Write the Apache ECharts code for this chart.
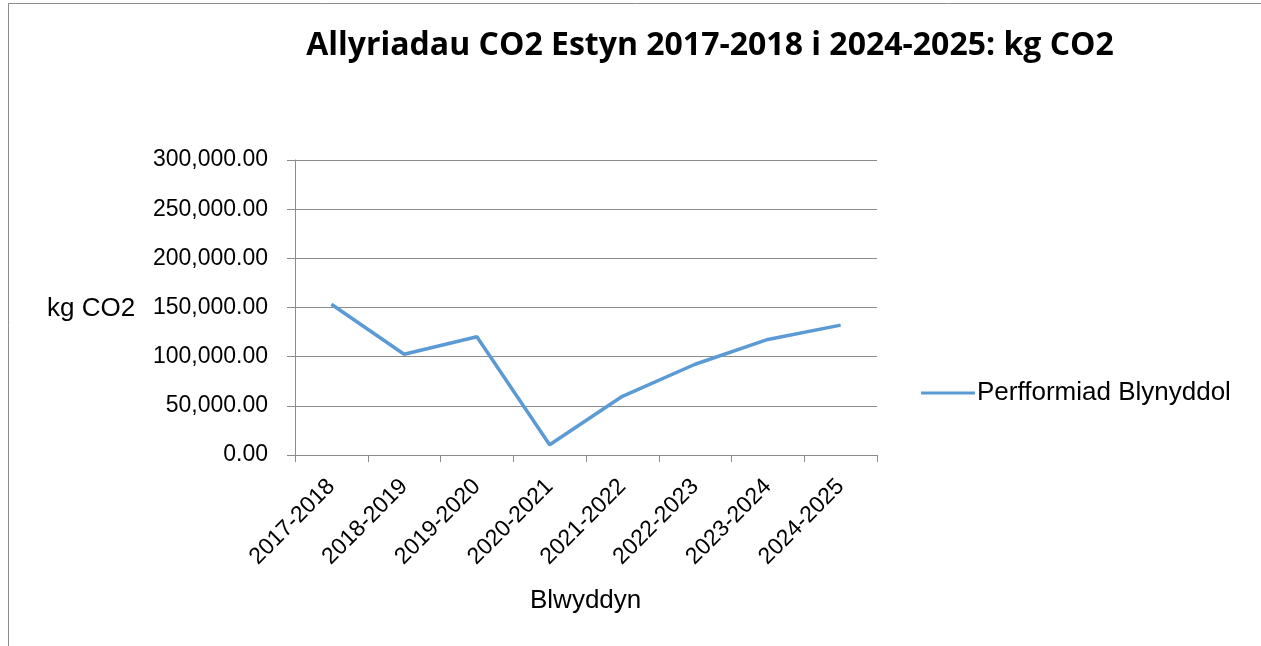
<!DOCTYPE html>
<html>
<head>
<meta charset="utf-8">
<script src="https://cdn.jsdelivr.net/npm/echarts@6/dist/echarts.min.js"></script>
<style>
html,body{margin:0;padding:0;background:#fff;}
#chart{width:1261px;height:646px;}
</style>
</head>
<body>
<div id="chart"></div>
<script>
const categories = ['2017-2018','2018-2019','2019-2020','2020-2021','2021-2022','2022-2023','2023-2024','2024-2025'];
const values = [153300, 102500, 120200, 10400, 59700, 92300, 117500, 132100];
const seriesName = 'Perfformiad Blynyddol';
const titleText = 'Allyriadau CO2 Estyn 2017-2018 i 2024-2025: kg CO2';
const yAxisName = 'kg CO2';
const xAxisName = 'Blwyddyn';

const chart = echarts.init(document.getElementById('chart'));
const fmt = v => v.toLocaleString('en-US', {minimumFractionDigits: 2, maximumFractionDigits: 2});
chart.setOption({
  animation: false,
  backgroundColor: '#fff',
  title: {
    text: titleText,
    left: 705, top: 25, textAlign: 'center',
    textStyle: {fontFamily: 'Open Sans, sans-serif', fontWeight: 'bold', fontSize: 32, color: '#000'}
  },
  grid: {left: 295, right: 384, top: 160, bottom: 191},
  legend: {
    left: 916, top: 375,
    itemWidth: 54, itemHeight: 3, itemGap: 6,
    icon: 'rect',
    textStyle: {fontFamily: 'Liberation Sans, Arial, sans-serif', fontSize: 26, color: '#000', padding: [0,0,0,-3]},
    data: [seriesName]
  },
  xAxis: {
    type: 'category', data: categories, boundaryGap: true,
    axisLine: {lineStyle: {color: '#8c8c8c', width: 1}},
    axisTick: {show: true, length: 7, lineStyle: {color: '#8c8c8c'}},
    axisLabel: {rotate: 45, fontFamily: 'Liberation Sans, Arial, sans-serif', fontSize: 23, color: '#000', margin: 28}
  },
  yAxis: {
    type: 'value', min: 0, max: 300000, interval: 50000,
    axisLine: {show: true, lineStyle: {color: '#8c8c8c', width: 1}},
    axisTick: {show: true, length: 8, lineStyle: {color: '#8c8c8c'}},
    splitLine: {lineStyle: {color: '#8c8c8c', width: 1}},
    axisLabel: {formatter: fmt, fontFamily: 'Liberation Sans, Arial, sans-serif', fontSize: 23, color: '#000', margin: 27}
  },
  graphic: [
    {type: 'rect', shape: {x: 8.5, y: 3.5, width: 1300, height: 700}, style: {fill: 'none', stroke: '#8c8c8c', lineWidth: 1}, silent: true},
    {type: 'text', left: 47, top: 296, style: {text: yAxisName, font: '26px "Liberation Sans", Arial, sans-serif', fill: '#000'}},
    {type: 'text', left: 530, top: 588, style: {text: xAxisName, font: '26px "Liberation Sans", Arial, sans-serif', fill: '#000'}}
  ],
  series: [{
    name: seriesName, type: 'line', data: values,
    symbol: 'none',
    lineStyle: {color: '#5B9BD5', width: 3.5},
    itemStyle: {color: '#5B9BD5'}
  }]
});
</script>
</body>
</html>
